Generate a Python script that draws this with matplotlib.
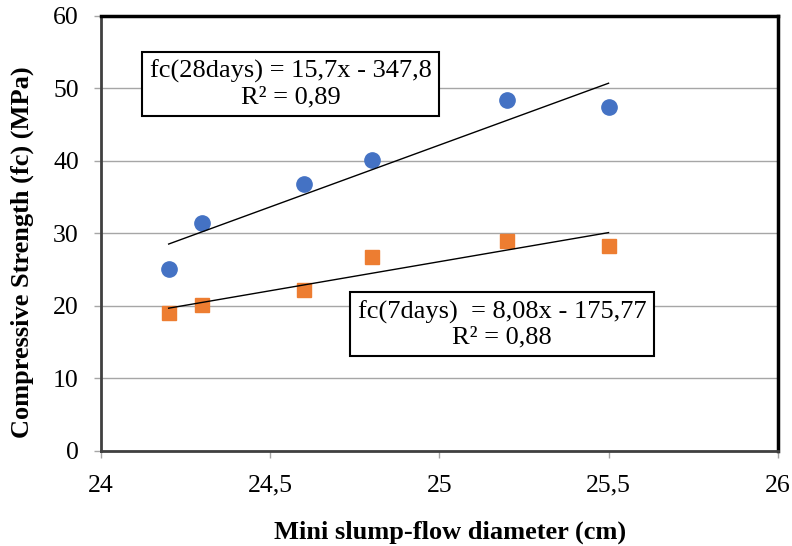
import numpy as np
import matplotlib
matplotlib.use("Agg")
import matplotlib.pyplot as plt

plt.rcParams['font.family'] = ['Liberation Serif', 'DejaVu Serif']

diameter = [24.2, 24.3, 24.6, 24.8, 25.2, 25.5]
fc28 = [25.1, 31.4, 36.8, 40.1, 48.4, 47.4]
fc7 = [19.0, 20.1, 22.2, 26.8, 29.0, 28.3]
xticks = [24, 24.5, 25, 25.5, 26]
xtick_labels = ["24", "24,5", "25", "25,5", "26"]
yticks = [0, 10, 20, 30, 40, 50, 60]
eq28 = "fc(28days) = 15,7x - 347,8\nR² = 0,89"
eq7 = "fc(7days)  = 8,08x - 175,77\nR² = 0,88"

fig = plt.figure(figsize=(7.92, 5.46), dpi=100)
ax = fig.add_axes([0.1275, 0.174, 0.8545, 0.797])

ax.set_xlim(24, 26)
ax.set_ylim(0, 60)
ax.set_yticks(yticks)
ax.set_xticks(xticks)
ax.set_xticklabels(xtick_labels)
ax.grid(axis='y', color='#a6a6a6', linewidth=1.0)
ax.set_axisbelow(True)

x = np.array(diameter)
for y, color, marker, ms in [(fc28, '#4472C4', 'o', 11), (fc7, '#ED7D31', 's', 10)]:
    ax.plot(x, y, linestyle='none', marker=marker, color=color, markersize=ms, zorder=3)
    p = np.polyfit(x, np.array(y), 1)
    xx = np.array([x.min(), x.max()])
    ax.plot(xx, np.polyval(p, xx), color='black', linewidth=1.0, zorder=4)

for side in ['top', 'right']:
    ax.spines[side].set_linewidth(2.5)
    ax.spines[side].set_color('black')
for side in ['left', 'bottom']:
    ax.spines[side].set_linewidth(2.0)
    ax.spines[side].set_color('#404040')

ax.tick_params(axis='both', direction='out', length=5, width=1, color='#a6a6a6',
               labelsize=18.5, labelcolor='black')
ax.tick_params(axis='y', pad=11)
ax.tick_params(axis='x', pad=12)

ax.set_xlabel("Mini slump-flow diameter (cm)", fontsize=19, fontweight='bold')
ax.set_ylabel("Compressive Strength (fc) (MPa)", fontsize=19, fontweight='bold')
ax.xaxis.label.set_va('center')
ax.yaxis.label.set_va('center')
ax.xaxis.set_label_coords(0.5155, -0.186)
ax.yaxis.set_label_coords(-0.1167, 0.457)

box = dict(boxstyle='square,pad=0.3', facecolor='white', edgecolor='black', linewidth=1.5)
ax.text(24.56, 50.6, eq28, fontsize=19, ha='center', va='center', linespacing=1.15, bbox=box, zorder=5)
ax.text(25.185, 17.5, eq7, fontsize=19, ha='center', va='center', linespacing=1.15, bbox=box, zorder=5)

fig.savefig("out.png", dpi=100)
